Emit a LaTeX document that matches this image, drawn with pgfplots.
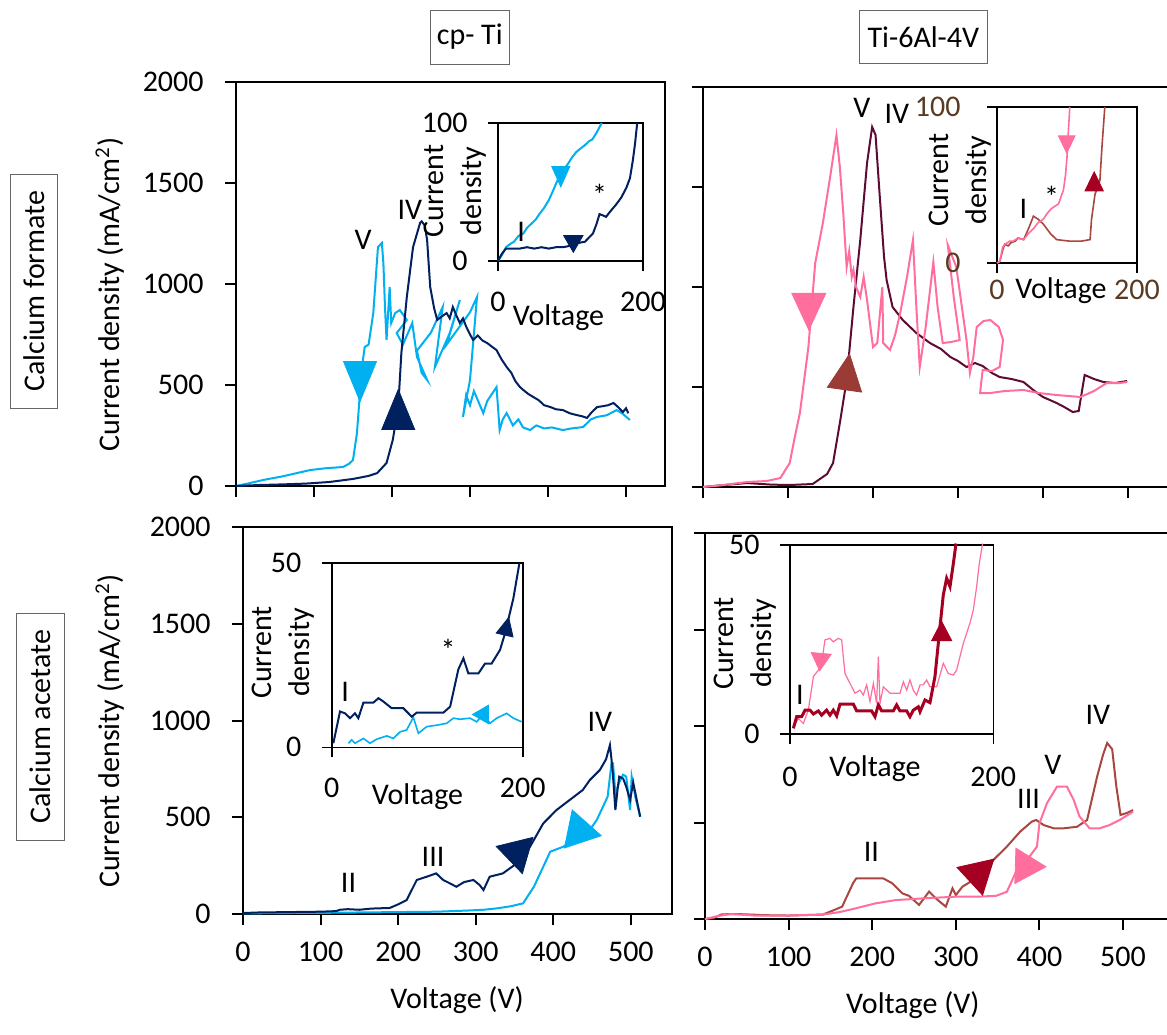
\documentclass[border=0pt]{standalone}
\usepackage{pgfplots}
\pgfplotsset{compat=1.18}
\usepackage{fontspec}
\setmainfont{Carlito}
\definecolor{lblue}{HTML}{00B0F0}
\definecolor{dblue}{HTML}{002060}
\definecolor{pinkc}{HTML}{FF6E9C}
\definecolor{maroonc}{HTML}{5E0B33}
\definecolor{brownc}{HTML}{A8473F}
\definecolor{dred}{HTML}{A50021}
\definecolor{tbrown}{HTML}{5A3A22}
\definecolor{arrbrown}{HTML}{9B3B35}
\newcommand{\fs}{\fontsize{15}{19}\selectfont}
\pgfplotsset{
  base/.style={scale only axis, anchor=south west, clip=false,
    axis line style={line width=1pt}, tick style={line width=1pt, black},
    tick align=outside, tick pos=left,
    /pgf/number format/assume math mode=true, /pgf/number format/1000 sep={},
    tick label style={font=\fs}, label style={font=\fs}, font=\fs},
  mainax/.style={base, xmin=0, ymin=0, ymax=2000, xtick={0,100,...,500}, ytick={0,500,...,2000},
    major tick length=5.5pt,
    yticklabel style={anchor=east, inner sep=0pt, xshift=-10.5pt},
    xticklabel style={anchor=north, inner sep=0pt, yshift=-8.5pt}},
  inax/.style={base, xmin=0, xmax=200, ymin=0, xtick={0,200},
    axis line style={line width=0.8pt}, tick style={line width=0.8pt},
    major tick length=5pt,
    yticklabel style={anchor=east, inner sep=0pt, xshift=-10pt},
    xticklabel style={anchor=center, inner sep=0pt, yshift=-15.5pt},
    axis background/.style={fill=white},
    ylabel style={align=center, anchor=center}, xlabel style={anchor=center}},
}
\begin{document}
\begin{tikzpicture}
\useasboundingbox (0,0) rectangle (583.5pt,-517pt);
% headers
\node[draw=gray!80!black, line width=0.5pt, minimum width=39.75pt, minimum height=27pt, inner sep=0pt, font=\fs] at (234.9pt,-18.5pt) {cp- Ti};
\node[draw=gray!80!black, line width=0.5pt, minimum width=64.3pt, minimum height=26.6pt, inner sep=0pt, font=\fs] at (461.7pt,-18.4pt) {Ti-6Al-4V};
\node[draw=gray!80!black, line width=0.5pt, rotate=90, minimum width=117pt, minimum height=23.3pt, inner sep=0pt, font=\fs] at (17pt,-145.7pt) {Calcium formate};
\node[draw=gray!80!black, line width=0.5pt, rotate=90, minimum width=113.5pt, minimum height=23.6pt, inner sep=0pt, font=\fs] at (20.2pt,-363.3pt) {Calcium acetate};

% ===== Top-left main
\begin{axis}[mainax, at={(118pt,-243pt)}, width=214.5pt, height=202pt, xmax=550, xticklabels={},
  ylabel={Current density (mA/cm\textsuperscript{2})}, ylabel style={at={(axis description cs:-0.294,0.474)}, anchor=center}]
\addplot[lblue, line width=1pt] coordinates {(0,0)(15,12)(35,30)(60,48)(95,79)(115,88)(137,94)(145,110)(150,129)(155,260)(157,361)(161,574)(165,688)(170,700)(176,856)(182,1183)(187,1203)(189,1100)(191,886)(193,723)(197,985)(199,807)(204,856)(210,871)(219,822)(206,757)(214,700)(226,807)(232,639)(245,525)(238,560)(232,670)(250,760)(265,886)(255,589)(274,757)(287,921)(270,700)(300,860)(309,936)(300,525)(291,342)(295,450)(300,400)(305,470)(317,361)(322,420)(334,490)(338,277)(342,330)(347,361)(355,300)(362,330)(368,290)(377,277)(385,300)(395,285)(405,290)(419,277)(430,285)(445,292)(455,330)(463,342)(475,350)(488,376)(495,360)(505,327)};
\addplot[dblue, line width=1pt] coordinates {(0,0)(30,5)(60,8)(90,12)(120,20)(150,35)(170,50)(181,64)(193,114)(201,228)(208,391)(212,658)(219,936)(227,1183)(236,1302)(238,1310)(242,1290)(245,1218)(249,985)(254,880)(258,822)(264,840)(270,856)(274,830)(278,886)(283,840)(287,807)(291,830)(295,790)(300,750)(304,723)(310,745)(316,720)(322,708)(328,690)(334,673)(340,630)(347,589)(353,560)(358,520)(364,490)(370,470)(375,455)(381,441)(388,425)(395,400)(403,391)(410,380)(419,376)(428,360)(437,351)(444,345)(450,337)(456,365)(463,391)(470,395)(477,400)(484,411)(490,390)(496,366)(500,385)(503,360)};
\addplot[only marks, mark=triangle*, lblue, mark size=9.5pt, mark options={rotate=180, yscale=1.4}] coordinates {(159,550)};
\addplot[only marks, mark=triangle*, dblue, mark size=9.5pt, mark options={yscale=1.4}] coordinates {(208,346)};
\node at (axis cs:163,1218) {V};
\node at (axis cs:223,1366) {IV};
\end{axis}

% ===== Top-left inset
\begin{axis}[inax, at={(249pt,-130.5pt)}, width=72.5pt, height=69pt, ymax=100, ytick={0,100},
  xlabel={Voltage}, xlabel style={at={(axis description cs:0.417,-0.409)}},
  ylabel={Current\\density}, ylabel style={at={(axis description cs:-0.297,0.507)}}]
\addplot[lblue, line width=1pt] coordinates {(0,0)(5,4)(11,10)(16,12)(22,14)(28,18)(35,20)(40,24)(46,27)(52,30)(57,34)(63,38)(70,44)(76,51)(80,56)(86,63)(90,66)(96,70)(102,75)(108,79)(115,82)(120,84)(126,87)(130,88)(136,93)(140,97)(143,100)};
\addplot[dblue, line width=1pt] coordinates {(0,0)(5,5)(11,9)(20,9)(30,9)(40,10)(50,9)(60,10)(70,9)(80,10)(90,10)(99,11)(110,13)(120,14)(131,20)(136,27)(140,34)(145,33)(149,32)(155,36)(163,41)(170,46)(177,53)(182,60)(186,73)(189,85)(192,100)};
\addplot[only marks, mark=triangle*, lblue, mark size=5.2pt, mark options={rotate=180, yscale=1.3}] coordinates {(86.6,63.5)};
\addplot[only marks, mark=triangle*, dblue, mark size=5.6pt, mark options={rotate=180}] coordinates {(103.9,14.4)};
\node at (axis cs:32,21) {I};
\node at (axis cs:140,48) {*};
\end{axis}

% ===== Top-right main
\begin{axis}[mainax, at={(351.5pt,-243.5pt)}, width=233.75pt, height=200pt, xmax=550, xticklabels={}, yticklabels={}]
\addplot[maroonc, line width=1pt] coordinates {(0,0)(20,8)(52,20)(80,12)(102,10)(129,15)(146,65)(153,120)(161,320)(169,535)(177,900)(185,1235)(193,1620)(199,1800)(203,1760)(208,1450)(213,1150)(216,1035)(223,900)(235,835)(251,770)(267,720)(280,690)(291,650)(300,630)(310,600)(320,620)(329,605)(340,570)(349,550)(363,540)(377,525)(390,480)(400,450)(416,420)(425,400)(435,375)(442,380)(449,560)(460,540)(471,525)(485,520)(499,530)};
\addplot[pinkc, line width=1pt] coordinates {(0,0)(20,8)(52,25)(75,30)(91,45)(102,120)(108,250)(114,370)(124,700)(132,1120)(141,1320)(149,1535)(157,1760)(161,1600)(165,1370)(169,1100)(172,1180)(175,1050)(177,1085)(180,1000)(185,950)(189,1050)(193,935)(200,700)(205,720)(211,1000)(212,720)(220,685)(226,760)(232,870)(240,1050)(247,1235)(251,900)(255,600)(262,800)(271,1125)(276,900)(282,720)(292,725)(302,735)(295,950)(288,1210)(298,1100)(310,735)(314,570)(318,650)(322,800)(330,830)(338,835)(348,800)(353,735)(349,600)(340,580)(329,585)(326,470)(338,470)(355,480)(377,485)(395,470)(416,460)(430,455)(444,450)(460,480)(475,520)(490,520)(499,525)};
\addplot[only marks, mark=triangle*, pinkc, mark size=9.8pt, mark options={rotate=180, yscale=1.25}] coordinates {(124.5,907)};
\addplot[only marks, mark=triangle*, arrbrown, mark size=10pt, mark options={rotate=-8, yscale=1.2}] coordinates {(168.4,546)};
\node at (axis cs:187,1895) {V};
\node at (axis cs:228,1865) {IV};
\end{axis}

% ===== Top-right inset
\begin{axis}[inax, at={(498.5pt,-131.5pt)}, width=70pt, height=78pt, ymax=100, ytick={0,100},
  yticklabel style={text=tbrown, xshift=-3pt}, xticklabel style={text=tbrown, yshift=7pt},
  xlabel={Voltage}, xlabel style={at={(axis description cs:0.457,-0.179)}},
  ylabel={Current\\density}, ylabel style={at={(axis description cs:-0.264,0.532)}}]
\addplot[brownc, line width=0.8pt] coordinates {(0,0)(4,1)(8,8)(11,12)(16,11)(20,13)(26,14)(30,16)(38,15)(45,22)(52,30)(59,28)(66,25)(76,19)(85,15)(104,14)(120,14)(133,15)(135,28)(140,44)(147,53)(150,75)(154,100)};
\addplot[pinkc, line width=0.8pt] coordinates {(0,0)(4,1)(8,10)(11,12)(15,13)(18,14)(23,14)(30,16)(38,15)(45,19)(52,22)(59,26)(66,28)(72,32)(78,35)(88,38)(95,47)(98,57)(100,68)(102,85)(104,100)};
\addplot[only marks, mark=triangle*, pinkc, mark size=4.8pt, mark options={rotate=180, yscale=1.2}] coordinates {(99.6,77.8)};
\addplot[only marks, mark=triangle*, dred, mark size=5.3pt, mark options={yscale=1.2}] coordinates {(138.8,50.3)};
\node at (axis cs:37.6,35) {I};
\node at (axis cs:78,42.5) {*};
\end{axis}

% ===== Bottom-left main
\begin{axis}[mainax, at={(121.5pt,-457pt)}, width=214.5pt, height=193.5pt, xmax=553,
  ylabel={Current density (mA/cm\textsuperscript{2})}, ylabel style={at={(axis description cs:-0.310,0.473)}, anchor=center},
  xlabel={Voltage (V)}, xlabel style={at={(axis description cs:0.499,-0.222)}, anchor=center}]
\addplot[lblue, line width=1pt] coordinates {(0,3)(50,5)(100,6)(150,8)(200,10)(250,12)(290,18)(310,22)(327,29)(345,40)(361,55)(375,141)(387,244)(396,322)(413,348)(430,399)(447,434)(456,486)(470,606)(475,778)(477,778)(480,623)(485,680)(490,720)(494,710)(499,537)(501,710)(506,600)(512,503)};
\addplot[dblue, line width=1pt] coordinates {(0,5)(20,8)(60,10)(100,12)(120,15)(125,22)(135,25)(150,22)(165,28)(180,30)(189,31)(200,50)(211,72)(224,176)(237,193)(249,210)(258,176)(266,160)(275,141)(285,165)(297,176)(305,150)(310,124)(318,193)(335,210)(353,262)(370,348)(387,468)(404,537)(421,589)(438,641)(447,692)(460,744)(468,800)(473,873)(475,800)(477,710)(480,537)(483,650)(485,710)(490,700)(494,658)(499,589)(503,680)(507,600)(512,503)};
\addplot[only marks, mark=triangle*, dblue, mark size=10.9pt, mark options={rotate=193.8}] coordinates {(353.4,318)};
\addplot[only marks, mark=triangle*, lblue, mark size=11.2pt, mark options={rotate=-101.6}] coordinates {(433.5,428)};
\node at (axis cs:136,159) {II};
\node at (axis cs:245,296) {III};
\node at (axis cs:460,994) {IV};
\end{axis}

% ===== Bottom-left inset
\begin{axis}[inax, at={(165.85pt,-373.65pt)}, width=95.5pt, height=92.3pt, ymax=50, ytick={0,50},
  xlabel={Voltage}, xlabel style={at={(axis description cs:0.449,-0.267)}},
  ylabel={Current\\density}, ylabel style={at={(axis description cs:-0.255,0.513)}}]
\addplot[lblue, line width=0.8pt] coordinates {(17.5,1.1)(20.9,2)(24.4,1.1)(33.2,2.4)(40.1,1.1)(47.1,2.2)(57.6,3.1)(64.6,2.4)(71.6,4.2)(78.5,4.7)(85.5,8.1)(90.8,3.8)(99.5,5.6)(110,6)(120.4,6.5)(127.4,7.9)(134.4,7.6)(144.9,7.9)(151.8,6.9)(158.8,9)(165.8,6.5)(172.8,7.9)(183.2,9.2)(190.2,7.9)(199,6.9)};
\addplot[dblue, line width=1pt] coordinates {(1.7,1.1)(8.7,9.7)(14,9.2)(19.2,7.9)(24.4,9.2)(27.9,7.9)(33.2,12.1)(43.6,12.1)(48.9,13.3)(54.1,12.4)(62.8,10.6)(75,10.6)(83.8,8.3)(89,9.4)(117,9.4)(124,11)(132.6,21.1)(137.9,24.1)(143.1,20)(153.6,20)(160.6,22.7)(167.5,22.7)(176.3,26.4)(181.5,30.9)(190.2,40.3)(196.5,49.8)};
\addplot[only marks, mark=triangle*, dblue, mark size=5pt, mark options={rotate=-13, yscale=1.2}] coordinates {(182.5,32)};
\addplot[only marks, mark=triangle*, lblue, mark size=5.3pt, mark options={rotate=90}] coordinates {(158.5,8.9)};
\node at (axis cs:14,15.1) {I};
\node at (axis cs:122,26.4) {*};
\end{axis}

% ===== Bottom-right main
\begin{axis}[mainax, at={(352.5pt,-459.5pt)}, width=234.1pt, height=193pt, xmax=560, yticklabels={},
  xlabel={Voltage (V)}, xlabel style={at={(axis description cs:0.444,-0.223)}, anchor=center}]
\addplot[brownc, line width=1pt] coordinates {(0,0)(10,5)(20,24)(35,26)(50,24)(70,20)(100,18)(141,23)(153,44)(164,64)(170,120)(177,185)(181,211)(193,211)(213,211)(224,185)(236,133)(244,120)(256,73)(268,142)(276,107)(288,64)(296,159)(300,124)(308,168)(321,202)(341,289)(361,375)(377,453)(391,505)(396,513)(405,487)(417,470)(429,470)(445,478)(457,513)(469,738)(476,850)(481,912)(487,880)(492,686)(497,539)(505,550)(512,565)};
\addplot[pinkc, line width=1pt] coordinates {(0,0)(15,15)(31,26)(59,18)(98,18)(141,23)(161,36)(180,55)(204,81)(228,98)(261,107)(301,116)(328,116)(348,120)(361,141)(373,254)(385,306)(397,375)(400,496)(409,600)(421,686)(433,686)(441,617)(448,531)(460,470)(472,470)(484,487)(496,513)(512,556)};
\addplot[only marks, mark=triangle*, dred, mark size=10.9pt, mark options={rotate=192.7}] coordinates {(326.3,233.7)};
\addplot[only marks, mark=triangle*, pinkc, mark size=10.2pt, mark options={rotate=-91.8}] coordinates {(383.4,274)};
\node at (axis cs:199,349) {II};
\node at (axis cs:387,625) {III};
\node at (axis cs:416,798) {V};
\node at (axis cs:470,1057) {IV};
\end{axis}

% ===== Bottom-right inset
\begin{axis}[inax, at={(395pt,-367pt)}, width=101.65pt, height=94.5pt, ymax=50, ytick={0,50},
  xticklabel style={yshift=-0.75pt},
  xlabel={Voltage}, xlabel style={at={(axis description cs:0.418,-0.185)}},
  ylabel={Current\\density}, ylabel style={at={(axis description cs:-0.221,0.479)}}]
\addplot[pinkc, line width=0.6pt] coordinates {(3.3,1.9)(8.2,4.1)(13.1,2.8)(18,6.3)(23,15.2)(27.9,16.9)(31.1,18.7)(34.4,24.9)(39.3,25.3)(42.6,24.4)(47.5,25.3)(50.8,24.9)(54.1,16)(59,13.4)(63.9,10.8)(68.9,11.6)(72.1,10.3)(75.4,13)(78.7,8.6)(82,13.4)(85.2,8.1)(86.9,20.5)(88.5,8.1)(91.8,12.5)(98.4,10.8)(108.2,10.8)(111.5,13.8)(114.8,11.6)(118,14.3)(121.3,11.6)(124.6,10.3)(127.9,13)(131.1,13)(134.4,14.3)(137.7,12.5)(144.3,12.5)(150.8,18.7)(155.7,16)(160.7,15.6)(163.9,16.9)(170.5,24)(177,29.3)(180.3,32.8)(183.6,39)(186.2,45.1)(189.5,50.4)};
\addplot[dred, line width=1.5pt] coordinates {(3.3,1.5)(6.6,4.6)(11.5,4.6)(14.8,6.3)(19.7,6.3)(23,5.3)(27.9,6.1)(31.1,5)(36,6.3)(39.3,5)(42.6,6.3)(45.9,4.8)(49.2,7.9)(62.3,7.9)(65.6,6.1)(80.3,6.1)(83.6,4.6)(86.9,7.7)(90.2,6.1)(101.6,6.1)(104.9,7.7)(108.2,6.1)(114.8,6.1)(118,4.6)(121.3,6.3)(126.2,7.2)(127.9,5.9)(132.8,9)(137.7,8.3)(142.6,15.2)(145.9,24)(150.8,36.8)(154.1,41.2)(157.4,39)(160.7,45.1)(163.3,50.4)};
\addplot[only marks, mark=triangle*, dred, mark size=5.8pt, mark options={yscale=1.1}] coordinates {(149.2,26.4)};
\addplot[only marks, mark=triangle*, pinkc, mark size=5.8pt, mark options={rotate=175}] coordinates {(30.2,19.8)};
\node at (axis cs:9.8,10.3) {I};
\end{axis}
\end{tikzpicture}
\end{document}
